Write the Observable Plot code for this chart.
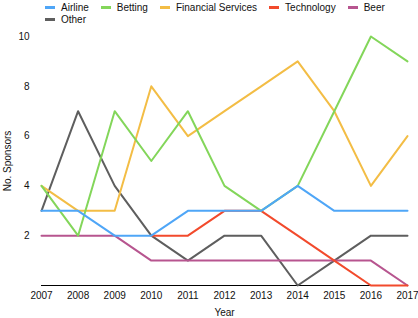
<!DOCTYPE html>
<html><head><meta charset="utf-8">
<script src="https://cdn.jsdelivr.net/npm/d3@7"></script>
<script src="https://cdn.jsdelivr.net/npm/@observablehq/plot@0.6"></script>
<style>
body{margin:0;background:#fff;font-family:"Liberation Sans",Arial,sans-serif;}
#legend{display:flex;flex-wrap:wrap;width:418px;height:26px;padding-left:45px;padding-top:1px;box-sizing:border-box;column-gap:12px;font-size:10px;line-height:11px;color:#111;}
.item{display:flex;align-items:center;}
.sw{width:10px;height:3px;margin-right:6px;}
</style></head><body>
<div id="legend"></div><div id="chart"></div>
<script>
const years = [2007, 2008, 2009, 2010, 2011, 2012, 2013, 2014, 2015, 2016, 2017];
const seriesNames = ["Airline", "Betting", "Financial Services", "Technology", "Beer", "Other"];
const seriesColors = ["#4fa6f7", "#83d65a", "#f3bd45", "#f24a2c", "#b7558f", "#5e5e5e"];
const airline    = [3, 3, 2, 2, 3, 3, 3, 4, 3, 3, 3];
const betting    = [4, 2, 7, 5, 7, 4, 3, 4, 7, 10, 9];
const financial  = [4, 3, 3, 8, 6, 7, 8, 9, 7, 4, 6];
const technology = [null, null, null, 2, 2, 3, 3, 2, 1, 0, 0];
const beer       = [2, 2, 2, 1, 1, 1, 1, 1, 1, 1, 0];
const other      = [3, 7, 4, 2, 1, 2, 2, 0, 1, 2, 2];
const yTicks = [2, 4, 6, 8, 10];

const seriesValues = [airline, betting, financial, technology, beer, other];
// draw order: reverse of legend (Airline on top)
const data = [];
for (let s = seriesNames.length - 1; s >= 0; s--) {
  years.forEach((yr, i) => {
    const v = seriesValues[s][i];
    if (v != null) data.push({year: yr, value: v, series: seriesNames[s]});
  });
}

const legend = document.getElementById("legend");
seriesNames.forEach((n, i) => {
  const it = document.createElement("div"); it.className = "item";
  const sw = document.createElement("span"); sw.className = "sw"; sw.style.background = seriesColors[i];
  const tx = document.createElement("span"); tx.textContent = n;
  it.appendChild(sw); it.appendChild(tx); legend.appendChild(it);
});

const chart = Plot.plot({
  width: 418, height: 292,
  marginLeft: 41, marginRight: 11, marginTop: 10, marginBottom: 33,
  style: {fontFamily: "Liberation Sans, Arial, sans-serif", fontSize: "10px", color: "#111", background: "#fff"},
  x: {domain: [2007, 2017]},
  y: {domain: [0, 10]},
  color: {domain: seriesNames, range: seriesColors},
  marks: [
    Plot.ruleY([0], {stroke: "#000", strokeWidth: 1}),
    Plot.line(data, {x: "year", y: "value", z: "series", stroke: "series", strokeWidth: 2}),
    Plot.axisX({ticks: years, tickFormat: "d", tickSize: 0, tickPadding: 6, label: "Year", labelAnchor: "center", labelArrow: "none", labelOffset: 30}),
    Plot.axisY({ticks: yTicks, tickSize: 0, tickPadding: 12, label: "No. Sponsors", labelAnchor: "center", labelArrow: "none", labelOffset: 38})
  ]
});
document.getElementById("chart").appendChild(chart);
</script>
</body></html>
